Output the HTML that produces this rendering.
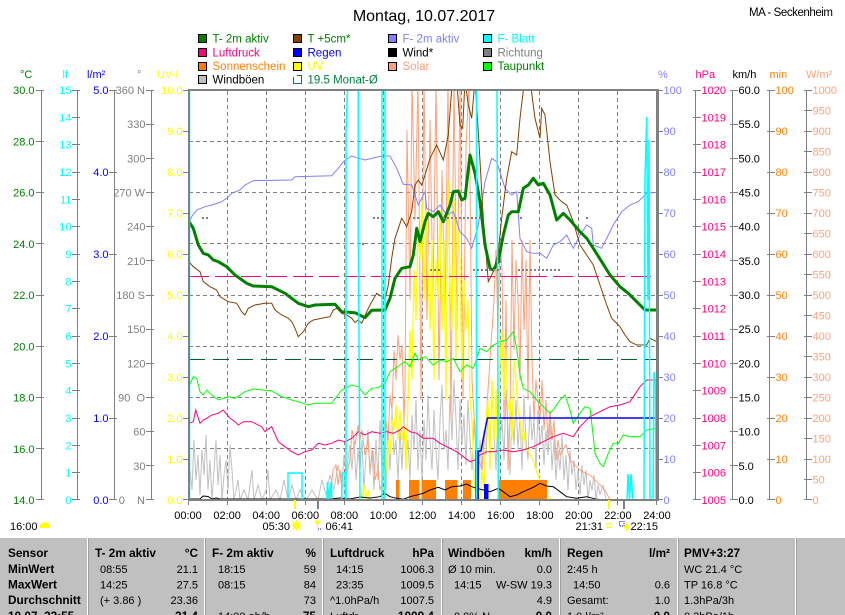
<!DOCTYPE html>
<html><head><meta charset="utf-8"><style>
html,body{margin:0;padding:0;background:#fff;}
svg{display:block;font-family:"Liberation Sans",Arial,sans-serif;}
</style></head><body>
<svg xmlns="http://www.w3.org/2000/svg" width="845" height="615" viewBox="0 0 845 615">
<defs><clipPath id="c"><rect x="189" y="91" width="467" height="409"/></clipPath></defs>
<rect width="845" height="615" fill="#fff"/>
<!-- title -->
<text x="424" y="21" font-size="16" text-anchor="middle" fill="#000">Montag, 10.07.2017</text>
<text x="749" y="16" font-size="11.5" fill="#000" textLength="84">MA - Seckenheim</text>
<!-- legend -->
<g font-size="11.5" stroke="#000" stroke-width="1">
<rect x="198.5" y="34.5" width="8" height="8" fill="#008000"/>
<rect x="293.5" y="34.5" width="8" height="8" fill="#804000"/>
<rect x="388.5" y="34.5" width="8" height="8" fill="#8080ff"/>
<rect x="483.5" y="34.5" width="8" height="8" fill="#00ffff"/>
<rect x="198.5" y="48.5" width="8" height="8" fill="#ff0080"/>
<rect x="293.5" y="48.5" width="8" height="8" fill="#0000ff"/>
<rect x="388.5" y="48.5" width="8" height="8" fill="#000"/>
<rect x="483.5" y="48.5" width="8" height="8" fill="#808080"/>
<rect x="198.5" y="62.5" width="8" height="8" fill="#ff8000"/>
<rect x="293.5" y="62.5" width="8" height="8" fill="#ffff00"/>
<rect x="388.5" y="62.5" width="8" height="8" fill="#ffa07a"/>
<rect x="483.5" y="62.5" width="8" height="8" fill="#00ff00"/>
<rect x="198.5" y="75.5" width="8" height="8" fill="#c0c0c0"/>
</g>
<path d="M297,75.5 H301.5 V83.5 H293.5 V77" fill="none" stroke="#008040" stroke-width="1"/>
<g font-size="11.5">
<text x="212.5" y="42.5" fill="#008000">T- 2m aktiv</text>
<text x="307.5" y="42.5" fill="#008000">T +5cm*</text>
<text x="402.5" y="42.5" fill="#8080ff">F- 2m aktiv</text>
<text x="497.5" y="42.5" fill="#00ffff">F- Blatt</text>
<text x="212.5" y="56.3" fill="#ff0080">Luftdruck</text>
<text x="307.5" y="56.3" fill="#0000ff">Regen</text>
<text x="402.5" y="56.3" fill="#000">Wind*</text>
<text x="497.5" y="56.3" fill="#808080">Richtung</text>
<text x="212.5" y="70.2" fill="#ff8000">Sonnenschein</text>
<text x="307.5" y="70.2" fill="#ffff00">UV</text>
<text x="402.5" y="70.2" fill="#ffa07a">Solar</text>
<text x="497.5" y="70.2" fill="#008000">Taupunkt</text>
<text x="212.5" y="83.6" fill="#000">Windböen</text>
<text x="307.5" y="83.6" fill="#008040">19.5 Monat-Ø</text>
</g>
<!-- unit labels -->
<g font-size="11">
<text x="20" y="78" fill="#008000">°C</text>
<text x="62.5" y="78" fill="#00ffff">lf</text>
<text x="87" y="78" fill="#0000ff">l/m²</text>
<text x="137" y="78" fill="#808080">°</text>
<text x="157" y="78" fill="#ffff00">UV-I</text>
<text x="658" y="78" fill="#8080ff">%</text>
<text x="695.5" y="78" fill="#ff0080">hPa</text>
<text x="732.5" y="78" fill="#000">km/h</text>
<text x="769.5" y="78" fill="#ff8000">min</text>
<text x="806" y="78" fill="#ffa07a">W/m²</text>
</g>
<!-- left axis lines and ticks -->
<g stroke="#808080" stroke-width="1" fill="none">
<path d="M41.5,90V500 M77.5,90V500 M114.5,90V500 M151.5,90V500"/>
<path d="M36,90.5h8 M36,141.5h8 M36,192.5h8 M36,243.5h8 M36,295.5h8 M36,346.5h8 M36,397.5h8 M36,448.5h8 M36,499.5h8"/>
<path d="M72,90.5h8 M72,117.5h8 M72,144.5h8 M72,172.5h8 M72,199.5h8 M72,226.5h8 M72,254.5h8 M72,281.5h8 M72,308.5h8 M72,336.5h8 M72,363.5h8 M72,390.5h8 M72,418.5h8 M72,445.5h8 M72,472.5h8 M72,499.5h8"/>
<path d="M109,90.5h8 M109,172.5h8 M109,254.5h8 M109,336.5h8 M109,418.5h8 M109,499.5h8"/>
<path d="M146,90.5h8 M146,124.5h8 M146,158.5h8 M146,192.5h8 M146,226.5h8 M146,260.5h8 M146,295.5h8 M146,329.5h8 M146,363.5h8 M146,397.5h8 M146,431.5h8 M146,465.5h8 M146,499.5h8"/>
<path d="M183,90.5h6 M183,131.5h6 M183,172.5h6 M183,213.5h6 M183,254.5h6 M183,295.5h6 M183,336.5h6 M183,377.5h6 M183,418.5h6 M183,459.5h6 M183,499.5h6"/>
</g>
<g font-size="11" text-anchor="end">
<g fill="#008000">
<text x="34.5" y="94">30.0</text><text x="34.5" y="145.3">28.0</text><text x="34.5" y="196.5">26.0</text><text x="34.5" y="247.8">24.0</text><text x="34.5" y="299">22.0</text><text x="34.5" y="350.3">20.0</text><text x="34.5" y="401.5">18.0</text><text x="34.5" y="452.8">16.0</text><text x="34.5" y="504">14.0</text>
</g>
<g fill="#00ffff">
<text x="71.5" y="94">15</text><text x="71.5" y="121.3">14</text><text x="71.5" y="148.7">13</text><text x="71.5" y="176">12</text><text x="71.5" y="203.3">11</text><text x="71.5" y="230.7">10</text><text x="71.5" y="258">9</text><text x="71.5" y="285.3">8</text><text x="71.5" y="312.7">7</text><text x="71.5" y="340">6</text><text x="71.5" y="367.3">5</text><text x="71.5" y="394.7">4</text><text x="71.5" y="422">3</text><text x="71.5" y="449.3">2</text><text x="71.5" y="476.7">1</text><text x="71.5" y="504">0</text>
</g>
<g fill="#0000ff">
<text x="108.5" y="94">5.0</text><text x="108.5" y="176">4.0</text><text x="108.5" y="258">3.0</text><text x="108.5" y="340">2.0</text><text x="108.5" y="422">1.0</text><text x="108.5" y="504">0.0</text>
</g>
<g fill="#808080">
<text x="145" y="94">360 N</text><text x="145.5" y="128.2">330</text><text x="145.5" y="162.3">300</text><text x="145" y="196.5">270 W</text><text x="145.5" y="230.7">240</text><text x="145.5" y="264.8">210</text><text x="145" y="299">180 S</text><text x="145.5" y="333.2">150</text><text x="145.5" y="367.3">120</text><text x="145" y="401.5" xml:space="preserve">90  O</text><text x="145.5" y="435.7">60</text><text x="145.5" y="469.8">30</text><text x="145" y="504" xml:space="preserve">0    N</text>
</g>
<g fill="#ffff00">
<text x="182.5" y="94">10.0</text><text x="182.5" y="135">9.0</text><text x="182.5" y="176">8.0</text><text x="182.5" y="217">7.0</text><text x="182.5" y="258">6.0</text><text x="182.5" y="299">5.0</text><text x="182.5" y="340">4.0</text><text x="182.5" y="381">3.0</text><text x="182.5" y="422">2.0</text><text x="182.5" y="463">1.0</text><text x="182.5" y="504">0.0</text>
</g>
</g>
<!-- right axes -->
<g stroke="#808080" stroke-width="1" fill="none">
<path d="M695.5,90V500 M732.5,90V500 M769.5,90V500 M806.5,90V500"/>
<path d="M658,90.5h5 M658,131.5h5 M658,172.5h5 M658,213.5h5 M658,254.5h5 M658,295.5h5 M658,336.5h5 M658,377.5h5 M658,418.5h5 M658,459.5h5 M658,499.5h5"/>
<path d="M693,90.5h8 M693,117.5h8 M693,144.5h8 M693,172.5h8 M693,199.5h8 M693,226.5h8 M693,254.5h8 M693,281.5h8 M693,308.5h8 M693,336.5h8 M693,363.5h8 M693,390.5h8 M693,418.5h8 M693,445.5h8 M693,472.5h8 M693,499.5h8"/>
<path d="M730,90.5h8 M730,124.5h8 M730,158.5h8 M730,192.5h8 M730,226.5h8 M730,260.5h8 M730,295.5h8 M730,329.5h8 M730,363.5h8 M730,397.5h8 M730,431.5h8 M730,465.5h8 M730,499.5h8"/>
<path d="M767,90.5h8 M767,131.5h8 M767,172.5h8 M767,213.5h8 M767,254.5h8 M767,295.5h8 M767,336.5h8 M767,377.5h8 M767,418.5h8 M767,459.5h8 M767,499.5h8"/>
<path d="M804,90.5h8 M804,110.5h8 M804,131.5h8 M804,151.5h8 M804,172.5h8 M804,192.5h8 M804,213.5h8 M804,233.5h8 M804,254.5h8 M804,274.5h8 M804,295.5h8 M804,315.5h8 M804,336.5h8 M804,356.5h8 M804,377.5h8 M804,397.5h8 M804,418.5h8 M804,438.5h8 M804,459.5h8 M804,479.5h8 M804,499.5h8"/>
</g>
<g font-size="11">
<g fill="#8080ff">
<text x="663.5" y="94">100</text><text x="663.5" y="135">90</text><text x="663.5" y="176">80</text><text x="663.5" y="217">70</text><text x="663.5" y="258">60</text><text x="663.5" y="299">50</text><text x="663.5" y="340">40</text><text x="663.5" y="381">30</text><text x="663.5" y="422">20</text><text x="663.5" y="463">10</text><text x="663.5" y="504">0</text>
</g>
<g fill="#ff0080">
<text x="701.5" y="94">1020</text><text x="701.5" y="121.3">1019</text><text x="701.5" y="148.7">1018</text><text x="701.5" y="176">1017</text><text x="701.5" y="203.3">1016</text><text x="701.5" y="230.7">1015</text><text x="701.5" y="258">1014</text><text x="701.5" y="285.3">1013</text><text x="701.5" y="312.7">1012</text><text x="701.5" y="340">1011</text><text x="701.5" y="367.3">1010</text><text x="701.5" y="394.7">1009</text><text x="701.5" y="422">1008</text><text x="701.5" y="449.3">1007</text><text x="701.5" y="476.7">1006</text><text x="701.5" y="504">1005</text>
</g>
<g fill="#000">
<text x="738.5" y="94">60.0</text><text x="738.5" y="128.2">55.0</text><text x="738.5" y="162.3">50.0</text><text x="738.5" y="196.5">45.0</text><text x="738.5" y="230.7">40.0</text><text x="738.5" y="264.8">35.0</text><text x="738.5" y="299">30.0</text><text x="738.5" y="333.2">25.0</text><text x="738.5" y="367.3">20.0</text><text x="738.5" y="401.5">15.0</text><text x="738.5" y="435.7">10.0</text><text x="738.5" y="469.8">5.0</text><text x="738.5" y="504">0.0</text>
</g>
<g fill="#ff8000">
<text x="775.5" y="94">100</text><text x="775.5" y="135">90</text><text x="775.5" y="176">80</text><text x="775.5" y="217">70</text><text x="775.5" y="258">60</text><text x="775.5" y="299">50</text><text x="775.5" y="340">40</text><text x="775.5" y="381">30</text><text x="775.5" y="422">20</text><text x="775.5" y="463">10</text><text x="775.5" y="504">0</text>
</g>
<g fill="#ffa07a">
<text x="812.5" y="94">1000</text><text x="812.5" y="114.5">950</text><text x="812.5" y="135">900</text><text x="812.5" y="155.5">850</text><text x="812.5" y="176">800</text><text x="812.5" y="196.5">750</text><text x="812.5" y="217">700</text><text x="812.5" y="237.5">650</text><text x="812.5" y="258">600</text><text x="812.5" y="278.5">550</text><text x="812.5" y="299">500</text><text x="812.5" y="319.5">450</text><text x="812.5" y="340">400</text><text x="812.5" y="360.5">350</text><text x="812.5" y="381">300</text><text x="812.5" y="401.5">250</text><text x="812.5" y="422">200</text><text x="812.5" y="442.5">150</text><text x="812.5" y="463">100</text><text x="812.5" y="483.5">50</text><text x="812.5" y="504">0</text>
</g>
</g>
<!-- plot area -->
<g clip-path="url(#c)">
<g stroke="#808080" stroke-width="1" stroke-dasharray="4,3" fill="none">
<path d="M227.5,91V500 M266.5,91V500 M305.5,91V500 M344.5,91V500 M383.5,91V500 M422.5,91V500 M461.5,91V500 M500.5,91V500 M539.5,91V500 M578.5,91V500 M617.5,91V500"/>
<path d="M189,141.5H656 M189,192.5H656 M189,243.5H656 M189,295.5H656 M189,346.5H656 M189,397.5H656 M189,448.5H656"/>
</g>
<!-- gusts -->
<polyline fill="none" stroke="#c0c0c0" stroke-width="1" points="188,500 190,470 192,490 194,440 196,480 198,455 200,495 202,450 204,475 206,435 208,490 210,460 212,500 214,470 216,440 218,485 220,455 222,500 224,475 226,460 228,490 230,445 232,470 234,500 238,480 240,500 244,490 248,500 252,470 254,500 258,485 262,500 266,490 268,470 270,500 276,490 280,500 284,480 288,500 292,485 296,500 300,490 306,500 312,490 318,500 322,480 326,495 330,475 334,490 338,465 342,485 344,455 346,475 350,445 352,470 354,440 356,480 358,450 360,470 362,440 364,490 366,455 368,430 370,475 372,450 374,490 376,440 378,480 380,420 382,470 384,445 386,490 388,430 390,470 392,410 394,455 396,440 398,480 400,430 402,470 404,420 406,460 408,440 410,480 412,415 414,450 416,400 418,470 420,430 422,480 424,420 426,460 428,395 430,440 432,470 434,410 436,450 438,480 440,420 442,385 444,450 446,430 448,470 450,395 452,440 454,380 456,420 458,470 460,400 462,445 464,415 466,465 468,400 470,440 472,470 474,420 476,455 478,490 480,440 482,470 484,430 486,455 488,410 490,445 492,395 494,430 496,470 498,400 500,440 502,420 504,460 506,390 508,430 510,475 512,410 514,445 516,400 518,450 520,415 522,470 524,395 526,440 528,460 530,405 532,440 534,420 536,470 538,410 540,445 542,425 544,465 546,430 548,455 550,420 552,470 554,440 556,480 558,450 560,470 562,435 564,480 566,455 568,490 570,450 572,475 574,460 576,490 578,470 580,495 582,465 584,485 586,470 588,500 590,480 592,490 594,475 596,500 598,485 600,495 603,485 606,500 657,500"/>
<!-- solar -->
<polyline fill="none" stroke="#ffa07a" stroke-width="1" points="330,500 333,470 336,465 338,485 340,470 342,490 345,480 350,460 352,430 355,445 358,425 360,440 362,430 365,455 368,440 370,470 373,450 375,480 378,470 380,490 383,480 386,420 388,440 390,395 392,410 394,350 396,380 398,335 400,360 402,345 404,420 405,390 407,130 410,300 412,80 415,220 418,80 421,400 424,80 427,320 430,120 433,300 436,80 439,380 442,170 445,320 448,80 451,420 454,80 457,330 460,80 463,400 466,150 469,80 472,380 475,430 477,480 479,460 482,470 484,440 486,420 488,390 490,360 492,330 494,300 496,250 498,330 500,240 502,270 504,420 506,300 508,470 510,420 512,240 514,350 516,260 518,300 520,380 522,240 524,330 526,260 528,400 530,240 532,360 534,420 536,380 538,400 540,420 542,380 544,430 546,400 548,440 550,410 552,440 554,420 556,460 558,440 560,455 563,450 566,445 570,460 575,465 580,470 585,473 590,475 595,480 600,485 605,490 610,500 657,500"/>
<!-- UV -->
<polyline fill="none" stroke="#ffff00" stroke-width="1.3" points="362,500 364,485 366,498 368,490 370,500 384,500 386,470 388,440 390,455 392,420 394,430 396,405 398,440 400,410 402,440 404,425 406,470 408,400 410,330 412,380 414,270 416,320 418,230 420,260 422,200 424,300 426,210 428,270 430,330 432,240 434,380 436,260 438,300 440,210 442,330 444,240 446,400 448,180 450,280 452,330 454,200 456,360 458,230 460,260 462,380 464,280 466,330 468,300 470,400 472,420 474,480 476,500 480,500 482,470 484,490 486,420 488,400 490,470 492,380 494,440 496,390 498,460 500,360 502,330 504,400 506,350 508,410 510,400 512,440 514,360 516,380 518,410 520,420 522,440 524,430 526,450 528,450 530,455 533,460 536,470 540,480 544,490 548,498 552,500 657,500"/>
<!-- sunshine -->
<g fill="#ff8000">
<rect x="396" y="480" width="3.5" height="20"/>
<rect x="409" y="480" width="10.5" height="20"/>
<rect x="421.5" y="480" width="14.5" height="20"/>
<rect x="445" y="480" width="12.5" height="20"/>
<rect x="463" y="480" width="8" height="20"/>
<rect x="499" y="480" width="48" height="20"/>
</g>
<path d="M189,499.5H657" stroke="#ff8000" stroke-width="1"/>
<!-- wind -->
<polyline fill="none" stroke="#000" stroke-width="1" points="189,499 200,499 203,496 208,496.5 212,499 216,498 220,499 330,499 340,498 350,499 360,497 370,498 380,496.7 385,493.3 390,496.7 396.7,498.3 403.3,499.3 410,496.7 416.7,495 423.3,493.3 430,490 438.3,487.3 445,490 451.7,486.7 460,486 466.7,484 471.7,486.7 476.7,488.3 483.3,490 490,491.7 498.3,488.3 503.3,491.7 510,496.7 516.7,495 523.3,491.7 533.3,487.3 540,483.3 546.7,486 553.3,486.7 560,491.7 566.7,496.7 576.7,498.3 586.7,496.7 596.7,499.3 606.7,500 657,500"/>
<!-- dashed reference lines -->
<path d="M189,276.5H657" stroke="#ff0080" stroke-width="1" stroke-dasharray="20,6"/>
<path d="M189,359.5H657" stroke="#006030" stroke-width="1" stroke-dasharray="16,8"/>
<!-- pressure -->
<polyline fill="none" stroke="#ff0080" stroke-width="1" points="189,423.3 193.3,421.7 195.7,410 200,423.3 203.3,420 206.7,418.3 211.7,415 218.3,413.3 223.3,410 230,418.3 235,421.7 238.3,425 243.3,421.7 251.7,421.7 261.7,426.7 265,431.7 271.7,426.7 278.3,441.7 285,446.7 291.7,451.7 298.3,455 305,451.7 311.7,450 318.3,443.3 325,445 331.7,443.3 338.3,440 345,441.7 351.7,438.3 358.3,431.7 365,435 371.7,431.7 380,433.3 386.7,431.7 393.3,433.3 400,430 403.3,426.7 410,431.7 416.7,433.3 423.3,438.3 433.3,438.3 440,443.3 446.7,446.7 456.7,451.7 463.3,456.7 470,461.7 475,460 480,455 486.7,451.7 493.3,451.7 503.3,450 513.3,451.7 523.3,450 533.3,446.7 543.3,441.7 553.3,436.7 563.3,433.3 573.3,436.7 580,426.7 590,416.7 596.7,413.3 610,406.7 620,405 630,401.7 640,386.7 646.7,380 656.7,380"/>
<!-- dew point -->
<polyline fill="none" stroke="#00ff00" stroke-width="1" points="189,386.7 193.3,376.7 196.7,378.3 200,391.7 203.3,395 206.7,390 211.7,395 218.3,400 228.3,396.7 235,398.3 245,391.7 253.3,389 271.7,391 281.7,396.7 291.7,400 298.3,401.7 308.3,405 315,403.3 331.7,403.3 341.7,390 351.7,385 358.3,386.7 365,395 371.7,388.3 378.3,387.7 385,383.3 390,371.7 395,368.3 400,365 405,361.7 410,366.7 415,353.3 418.3,360 425,356.7 426.7,358.3 433.3,365 440,360 446.7,361.7 453.3,358.3 460,371.7 466.7,365 473.3,368.3 480,348.3 486.7,351.7 493.3,345 500,341.7 506.7,340 513.3,331.7 516.7,348.3 520,375 523.3,388.3 530,391.7 536.7,400 543.3,406.7 550,413.3 553.3,410 560,400 565,395 570,410 573.3,423.3 580,413.3 585,406.7 590,408.3 593.3,436.7 595,453.3 600,463.3 603.3,466.7 608.3,453.3 613.3,443.3 618.3,443.3 623.3,435 630,436.7 640,436.7 646.7,430 656.7,428.3"/>
<!-- humidity -->
<polyline fill="none" stroke="#8080ff" stroke-width="1" points="189,221.7 191.7,216.7 196.7,210 205,206.7 211.7,205 221.7,201.7 226.7,198.3 231.7,193.3 240,190 245,185 253.3,180.7 291.7,180 295,176.7 331.7,175.7 338.3,168.3 343.3,161.7 351.7,156 356.7,157.7 365,160 381.7,156 390,156 396.7,168.3 403.3,184.3 411.7,185 418.3,205 425,191.7 426.7,208.3 433.3,211.7 440,205 446.7,215 453.3,211.7 460,231.7 466.7,238.3 471.7,248.3 478.3,225 485,181.7 491.7,158.3 496.7,161.7 505,188.3 511.7,195 516.7,191.7 520,238.3 526.7,251.7 533.3,253.3 540,253.3 546.7,258.3 553.3,245 560,241.7 566.7,235 573.3,248.3 580,235 586.7,225 591.7,228.3 593.3,245 601.7,248.3 608.3,235 613.3,225 621.7,211.7 630,205 638.3,201.7 646.7,193.3 656.7,192.3"/>
<!-- T +5cm -->
<polyline fill="none" stroke="#804000" stroke-width="1" points="189,261.7 193.3,266.7 200,271.7 203.3,281.7 210,286.7 216.7,290 220,296.7 228.3,301.7 236.7,303.3 241.7,311.7 245,315 248.3,308.3 255,305 265,303.3 271.7,303.3 275,310 281.7,315 288.3,318.3 291.7,321.7 295,328.3 298.3,336.7 303.3,331.7 308.3,323.3 313.3,320 321.7,318.3 330,316.7 333.3,310 336.7,308.3 341.7,313.3 346.7,315 351.7,318.3 355,322.3 358.3,320 361.7,323.3 366.7,311.7 370,305 376.7,293.3 381.7,296.7 385,300 388.3,285 391.7,258.3 395,238.3 401.7,218.3 406.7,226.7 411.7,211.7 415,185 418.3,180 421.7,185 425,175 430,158.3 436.7,145 443.3,160 448.3,135 452,85 456.7,80 460,125 462.7,128.3 465,80 468.3,105 471.7,118.3 475,80 478.3,131.7 483.3,218.3 488.3,281.7 493.3,271.7 498.3,251.7 501.7,218.3 506.7,178.3 511.7,151.7 516.7,155 520,118.3 524,85 530,80 535,118.3 540,138.3 541.7,108.3 545,115 550,161.7 555,195 561.7,201.7 566.7,205 573.3,221.7 580,245 586.7,255 593.3,265 600,285 606.7,305 611.7,318.3 620,326.7 625,335 630,341.7 636.7,345 646.7,345 650,338.3 656.7,341.7"/>
<!-- T 2m -->
<polyline fill="none" stroke="#008000" stroke-width="3" stroke-linejoin="round" points="189,221.7 193.3,228.3 198.3,245 203.3,253.3 208.3,255 213.3,260 218.3,261.7 226.7,266.7 235,275 246.7,283.3 253.3,286 271.7,286.7 285,293.3 298.3,303.3 308.3,306.7 315,305 335,304.3 341.7,311.7 355,312.7 365,317.7 371.7,310.3 385,310 390,298.3 395,278.3 401.7,268.3 410,266.7 413.3,255 416.7,228.3 420,241.7 425,221.7 428.3,213.3 433.3,216.7 438.3,211.7 443.3,221.7 450,205 453.3,191.7 458.3,191 461.7,200 465,198.3 470,155 475,173.3 480,201.7 485,245 490,268.3 493.3,270 498.3,261.7 503.3,235 508.3,215 511.7,211.7 518.3,211.7 523.3,188.3 528.3,185 533.3,178.3 538.3,185 543.3,183.3 550,195 556.7,220 563.3,213.3 570,220 580,231.7 586.7,238.3 593.3,248.3 601.7,261.7 610,275 620,286.7 628.3,293.3 636.7,301.7 645,310 656.7,310"/>
<!-- rain -->
<polyline fill="none" stroke="#0000ff" stroke-width="1.5" points="476,500 476,451 481,451 483,440 486,425 487.5,418 657,418"/>
<rect x="476" y="451" width="3" height="49" fill="#0000ff"/>
<rect x="484" y="484" width="4.5" height="16" fill="#0000ff"/>
<!-- leaf wetness -->
<g fill="none" stroke="#00ffff" stroke-width="1.5">
<path d="M189.5,500V90"/>
<polyline points="346,500 346,132 347.5,90 358.3,90 358.3,228 360,500"/>
<polyline points="382,500 382,90 385,90 385,500"/>
<polyline points="288,500 288,473 302,473 302,500"/>
<polyline points="326.7,500 327.5,482 329,500 331,482 332,500"/>
<polyline points="341.7,500 342,473 345,473 345.5,500"/>
<polyline points="476.5,500 476.5,90 497,90 498.3,500"/>
<polyline points="627,500 628,474 629.5,500 631,474 633,500"/>
<polyline points="644,500 645,180 646.7,117 648,300 649,140 650,500"/>
<polyline points="653,500 654,372 655.5,380 656,500"/>
</g>
<!-- direction dots -->
<path d="M202,218h6 M373,218h12 M413,218h6 M362,244h4 M443,218h40 M520,218h4 M586,218h3 M430,270h10 M473,270h27 M518,270h42" stroke="#808080" stroke-width="2" stroke-dasharray="2,2"/>
</g>
<!-- frame -->
<rect x="188" y="89" width="471" height="2" fill="#808080"/>
<rect x="656" y="89" width="3" height="412" fill="#808080"/>
<rect x="188" y="89" width="2" height="412" fill="#808080"/>
<rect x="188" y="499" width="471" height="2" fill="#808080"/>
<!-- x ticks -->
<path d="M188.5,500v5 M227.5,500v5 M266.5,500v5 M305.5,500v5 M344.5,500v5 M383.5,500v5 M422.5,500v5 M461.5,500v5 M500.5,500v5 M539.5,500v5 M578.5,500v5 M617.5,500v5 M656.5,500v5" stroke="#808080" stroke-width="1"/>
<rect x="294" y="500" width="2" height="9" fill="#ffff00"/>
<rect x="317" y="500" width="2" height="9" fill="#808080"/>
<rect x="608" y="500" width="2" height="9" fill="#ffff00"/>
<rect x="623" y="500" width="2" height="9" fill="#808080"/>
<g font-size="11" text-anchor="middle" fill="#000">
<text x="188" y="519">00:00</text><text x="227.1" y="519">02:00</text><text x="266.2" y="519">04:00</text><text x="305.3" y="519">06:00</text><text x="344.3" y="519">08:00</text><text x="383.4" y="519">10:00</text><text x="422.5" y="519">12:00</text><text x="461.6" y="519">14:00</text><text x="500.7" y="519">16:00</text><text x="539.8" y="519">18:00</text><text x="578.8" y="519">20:00</text><text x="617.9" y="519">22:00</text><text x="657" y="519">24:00</text>
</g>
<g font-size="11" fill="#000">
<text x="10" y="530">16:00</text>
<text x="262.5" y="530">05:30</text>
<text x="325.5" y="530">06:41</text>
<text x="575.5" y="530">21:31</text>
<text x="630.5" y="530">22:15</text>
</g>
<path d="M40,528 h9 a3,3 0 0 0 -2,-5 a3,3 0 0 0 -5,1 a2.5,2.5 0 0 0 -2,4z" fill="#ffff00"/>
<g stroke="#ffff00" stroke-width="1"><circle cx="296.5" cy="525.5" r="3" fill="#ffff00"/><path d="M296.5,520v2 M296.5,529v2 M291,525.5h2 M300,525.5h2 M292.5,521.5l1.5,1.5 M299,528l1.5,1.5 M300.5,521.5l-1.5,1.5 M294,528l-1.5,1.5"/></g>
<path d="M315,521 h5 l-2.5,4z M317.5,525 v3" stroke="#ffff00" fill="#ffff00" stroke-width="1"/>
<path d="M318,529 h4" stroke="#0000ff" stroke-dasharray="1,1"/>
<rect x="607" y="523.5" width="4" height="4" fill="none" stroke="#ffff00"/>
<rect x="619.5" y="521.5" width="4.5" height="4.5" fill="none" stroke="#0000ff" stroke-dasharray="1,1"/>
<path d="M624,528 l2.5,-5 l2.5,5z M626.5,528v3" fill="#ffff00" stroke="#ffff00"/>
<!-- table -->
<rect x="0" y="538" width="845" height="77" fill="#c0c0c0"/>
<path d="M87.5,538V615 M204.5,538V615 M322.5,538V615 M441.5,538V615 M559.5,538V615 M677.5,538V615 M795.5,538V615" stroke="#fff" stroke-width="1"/>
<path d="M88.5,538V615 M205.5,538V615 M323.5,538V615 M442.5,538V615 M560.5,538V615 M678.5,538V615 M796.5,538V615" stroke="#a0a0a0" stroke-width="1"/>
<g font-size="11.8" font-weight="bold" fill="#000">
<text x="8" y="557">Sensor</text>
<text x="8" y="573">MinWert</text>
<text x="8" y="588.5">MaxWert</text>
<text x="8" y="604">Durchschnitt</text>
<text x="8" y="620">10.07. 22:55</text>
<text x="95" y="557">T- 2m aktiv</text>
<text x="198" y="557" text-anchor="end">°C</text>
<text x="212" y="557">F- 2m aktiv</text>
<text x="316" y="557" text-anchor="end">%</text>
<text x="330" y="557">Luftdruck</text>
<text x="434" y="557" text-anchor="end">hPa</text>
<text x="448" y="557">Windböen</text>
<text x="552" y="557" text-anchor="end">km/h</text>
<text x="567" y="557">Regen</text>
<text x="670" y="557" text-anchor="end">l/m²</text>
<text x="684" y="557">PMV+3:27</text>
<text x="198" y="620" text-anchor="end">21.4</text>
<text x="316" y="620" text-anchor="end">75</text>
<text x="434" y="620" text-anchor="end">1009.4</text>
<text x="552" y="620" text-anchor="end">0.0</text>
<text x="670" y="620" text-anchor="end">0.0</text>
</g>
<g font-size="11" fill="#000">
<text x="100" y="573">08:55</text><text x="198" y="573" text-anchor="end">21.1</text>
<text x="100" y="588.5">14:25</text><text x="198" y="588.5" text-anchor="end">27.5</text>
<text x="100" y="604">(+ 3.86 )</text><text x="198" y="604" text-anchor="end">23.36</text>
<text x="218" y="573">18:15</text><text x="316" y="573" text-anchor="end">59</text>
<text x="218" y="588.5">08:15</text><text x="316" y="588.5" text-anchor="end">84</text>
<text x="316" y="604" text-anchor="end">73</text>
<text x="218" y="620">14:00 ab/h</text>
<text x="336" y="573">14:15</text><text x="434" y="573" text-anchor="end">1006.3</text>
<text x="336" y="588.5">23:35</text><text x="434" y="588.5" text-anchor="end">1009.5</text>
<text x="330" y="604">^1.0hPa/h</text><text x="434" y="604" text-anchor="end">1007.5</text>
<text x="330" y="620">Luftdr.</text>
<text x="448" y="573">Ø 10 min.</text><text x="552" y="573" text-anchor="end">0.0</text>
<text x="454" y="588.5">14:15</text><text x="552" y="588.5" text-anchor="end">W-SW 19.3</text>
<text x="552" y="604" text-anchor="end">4.9</text>
<text x="454" y="620">0.0% N</text>
<text x="567" y="573">2:45 h</text>
<text x="573" y="588.5">14:50</text><text x="670" y="588.5" text-anchor="end">0.6</text>
<text x="567" y="604">Gesamt:</text><text x="670" y="604" text-anchor="end">1.0</text>
<text x="567" y="620">1.0 l/m²</text>
<text x="684" y="573">WC 21.4 °C</text>
<text x="684" y="588.5">TP 16.8 °C</text>
<text x="684" y="604">1.3hPa/3h</text>
<text x="684" y="620">0.3hPa/1h</text>
</g>
</svg>
</body></html>
